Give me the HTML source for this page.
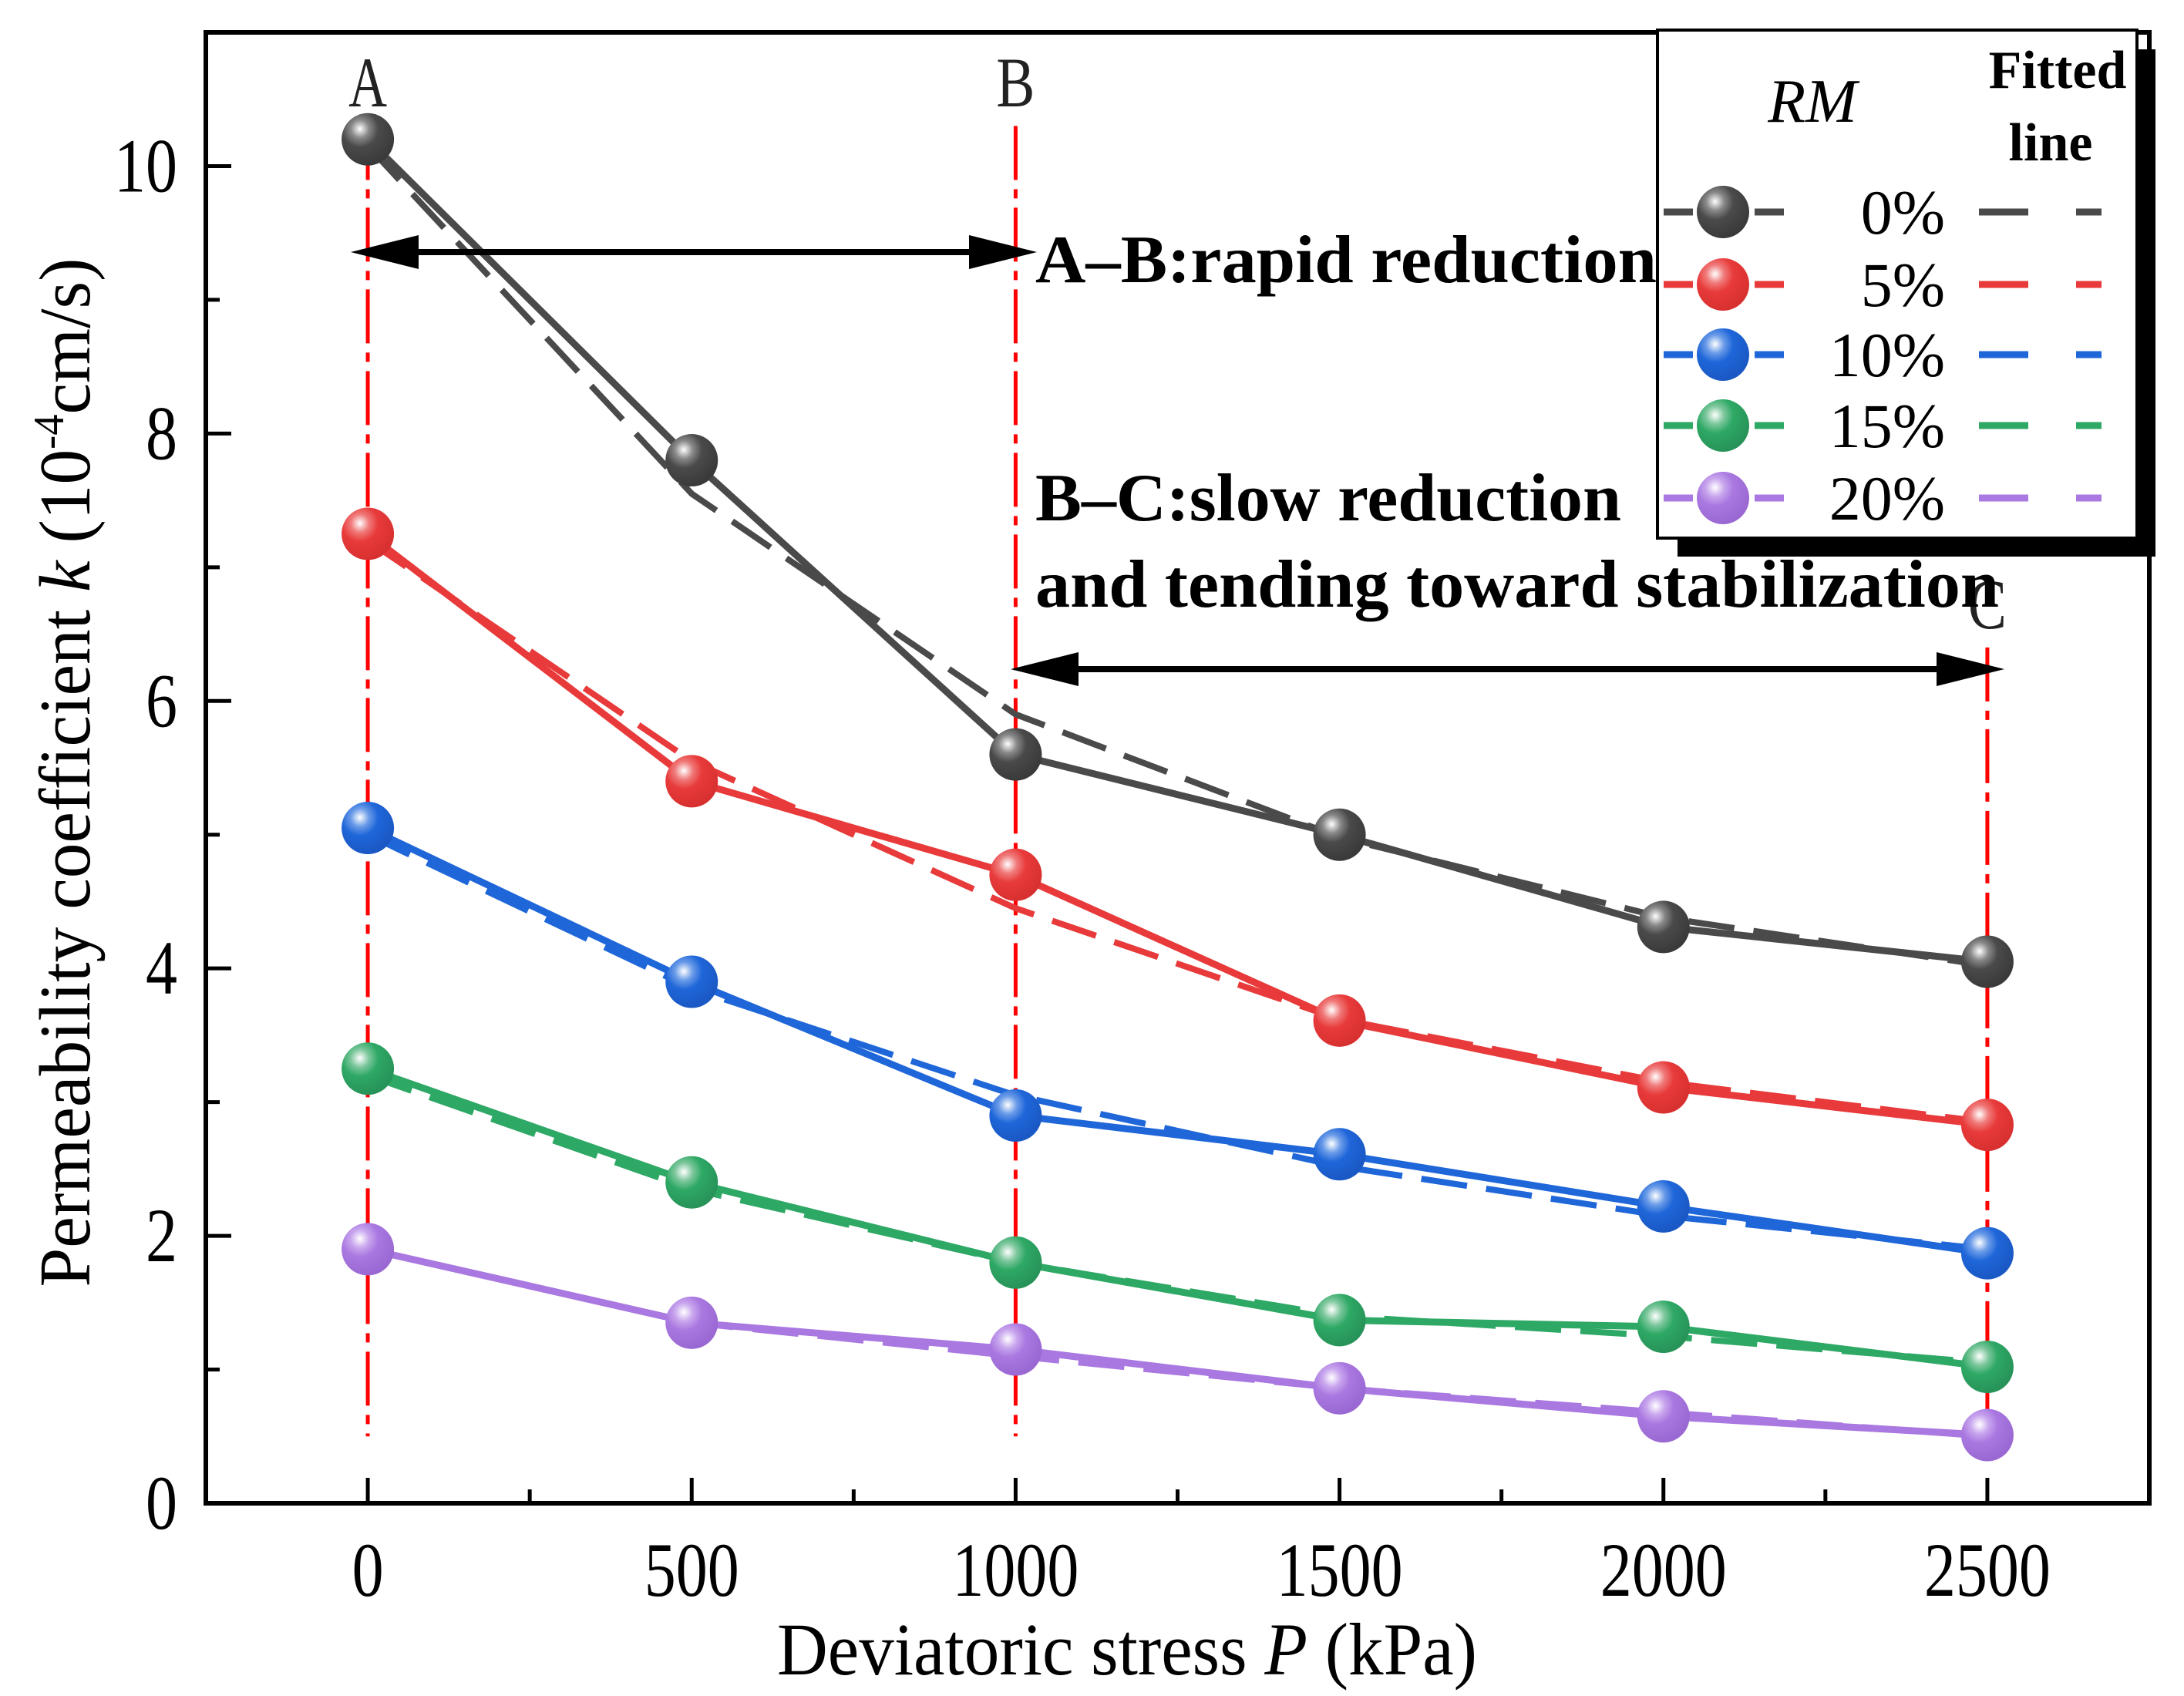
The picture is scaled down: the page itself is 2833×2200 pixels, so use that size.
<!DOCTYPE html>
<html><head><meta charset="utf-8"><style>
html,body{margin:0;padding:0;background:#fff;}
svg{display:block;}
text{font-family:"Liberation Serif",serif;}
</style></head><body>
<svg id="chart" width="2833" height="2200" viewBox="0 0 2833 2200" xmlns="http://www.w3.org/2000/svg">
<defs>
<radialGradient id="gk" cx="0.35" cy="0.3" r="0.7"><stop offset="0" stop-color="#fff"/><stop offset="0.25" stop-color="#888"/><stop offset="0.5" stop-color="#4a4a4a"/><stop offset="1" stop-color="#3a3a3a"/></radialGradient>
<radialGradient id="gr" cx="0.35" cy="0.3" r="0.7"><stop offset="0" stop-color="#fff"/><stop offset="0.25" stop-color="#f07a7a"/><stop offset="0.5" stop-color="#e83a3a"/><stop offset="1" stop-color="#d83030"/></radialGradient>
<radialGradient id="gb" cx="0.35" cy="0.3" r="0.7"><stop offset="0" stop-color="#fff"/><stop offset="0.25" stop-color="#6a9be8"/><stop offset="0.5" stop-color="#1f66d9"/><stop offset="1" stop-color="#1a58c4"/></radialGradient>
<radialGradient id="gg" cx="0.35" cy="0.3" r="0.7"><stop offset="0" stop-color="#fff"/><stop offset="0.25" stop-color="#7cc79c"/><stop offset="0.5" stop-color="#2ea865"/><stop offset="1" stop-color="#279358"/></radialGradient>
<radialGradient id="gp" cx="0.35" cy="0.3" r="0.7"><stop offset="0" stop-color="#fff"/><stop offset="0.25" stop-color="#c9a6ee"/><stop offset="0.5" stop-color="#a978e0"/><stop offset="1" stop-color="#9a68d2"/></radialGradient>
</defs>
<g id="plot"></g>
</svg>
<script>
const xValues=[0,500,1000,1500,2000,2500];
const seriesNames=["0%","5%","10%","15%","20%"];
const k0=[10.2,7.8,5.6,5.0,4.31,4.05];
const k5=[7.25,5.4,4.7,3.61,3.11,2.83];
const k10=[5.05,3.9,2.9,2.61,2.22,1.87];
const k15=[3.25,2.4,1.8,1.37,1.32,1.02];
const k20=[1.9,1.35,1.15,0.86,0.65,0.51];
const fit0=[10.15,7.55,5.9,4.98,4.38,4.02];
const fit5=[7.2,5.55,4.45,3.62,3.15,2.85];
const fit10=[5.0,3.85,3.05,2.52,2.15,1.9];
const fit15=[3.2,2.35,1.8,1.4,1.25,1.05];
const fit20=[1.9,1.35,1.1,0.86,0.68,0.5];
const xTicks=[0,500,1000,1500,2000,2500];
const yTicks=[0,2,4,6,8,10];
const xMinor=[250,750,1250,1750,2250];
const yMinor=[1,3,5,7,9];
const stageX=[0,1000,2500];
const colors=["#4a4a4a","#e83a3a","#1f66d9","#2ea865","#a978e0"];
const grads=["gk","gr","gb","gg","gp"];
const data=[k0,k5,k10,k15,k20];
const fits=[fit0,fit5,fit10,fit15,fit20];

const L=267,R=2788,T=42,B=1950;
const xMin=-250,xMax=2750,yMin=0,yMax=11;
const sx=v=>L+(v-xMin)/(xMax-xMin)*(R-L);
const sy=v=>B-(v-yMin)/(yMax-yMin)*(B-T);
const NS="http://www.w3.org/2000/svg";
const g=document.getElementById('plot');
function mk(tag,attrs,parent){const e=document.createElementNS(NS,tag);for(const k in attrs)e.setAttribute(k,attrs[k]);(parent||g).appendChild(e);return e;}

let fr=mk('rect',{x:L,y:T,width:R-L,height:B-T,fill:'none',stroke:'#000','stroke-width':6});



xTicks.forEach(v=>{
  let t=mk('line',{x1:sx(v),x2:sx(v),y1:B,y2:B-33,stroke:'#000','stroke-width':5});
  
  
  let s=String(v);
  let l=mk('text',{x:sx(v),y:2070,'font-size':100,'text-anchor':'middle',textLength:s.length*41,lengthAdjust:'spacingAndGlyphs'});
  l.textContent=s;
  
  
});
xMinor.forEach(v=>{
  let t=mk('line',{x1:sx(v),x2:sx(v),y1:B,y2:B-18,stroke:'#000','stroke-width':5});
  
  
});
yTicks.forEach(v=>{
  let t=mk('line',{x1:L,x2:L+33,y1:sy(v),y2:sy(v),stroke:'#000','stroke-width':5});
  
  
  let s=String(v);
  let l=mk('text',{x:230,y:sy(v)+33,'font-size':100,'text-anchor':'end',textLength:s.length*41,lengthAdjust:'spacingAndGlyphs'});
  l.textContent=s;
  
  
});
yMinor.forEach(v=>{
  let t=mk('line',{x1:L,x2:L+18,y1:sy(v),y2:sy(v),stroke:'#000','stroke-width':5});
  
  
});

const stageTop=[10.3,10.3,6.4];
stageX.forEach((v,i)=>{
  let l=mk('line',{x1:sx(v),x2:sx(v),y1:sy(stageTop[i]),y2:sy(0.5),stroke:'#ff0000','stroke-width':5,'stroke-dasharray':'70 12 12 12'});
  
  
});
[['A',0,138],['B',1000,138]].forEach(a=>{
  let t=mk('text',{x:sx(a[1]),y:a[2],'font-size':92,'text-anchor':'middle','fill':'#222',textLength:50,lengthAdjust:'spacingAndGlyphs'});
  t.textContent=a[0];
  
  
});
let tc=mk('text',{x:sx(2500),y:815,'font-size':92,'text-anchor':'middle','fill':'#222',textLength:50,lengthAdjust:'spacingAndGlyphs'});
tc.textContent='C';



data.forEach((arr,si)=>{
  let fp=fits[si].map((v,i)=>sx(xValues[i])+','+sy(v)).join(' ');
  let f=mk('polyline',{points:fp,fill:'none',stroke:colors[si],'stroke-width':8,'stroke-dasharray':'60 25'});
  
  
  let p=arr.map((v,i)=>sx(xValues[i])+','+sy(v)).join(' ');
  let l=mk('polyline',{points:p,fill:'none',stroke:colors[si],'stroke-width':9});
  
  
});
data.forEach((arr,si)=>{
  arr.forEach((v,i)=>{
    let c=mk('circle',{cx:sx(xValues[i]),cy:sy(v),r:34,fill:'url(#'+grads[si]+')'});
    
    
  });
});

function arrow(x1,x2,y,name){
  let ag=mk('g',{});
  
  
  mk('line',{x1:x1+60,x2:x2-60,y1:y,y2:y,stroke:'#000','stroke-width':8},ag);
  mk('polygon',{points:`${x1},${y} ${x1+88},${y-22} ${x1+88},${y+22}`,fill:'#000'},ag);
  mk('polygon',{points:`${x2},${y} ${x2-88},${y-22} ${x2-88},${y+22}`,fill:'#000'},ag);
}
arrow(455,1345,327,'arrow-a-b');
arrow(1311,2600,868,'arrow-b-c');

function txt(s,x,y,len,name){
  let t=mk('text',{x:x,y:y,'font-size':88,'font-weight':'bold',textLength:len,lengthAdjust:'spacingAndGlyphs'});
  t.textContent=s;
  
  
  return t;
}
txt('A\u2013B:rapid reduction',1343,366,806,'annotation-rapid');
txt('B\u2013C:slow reduction',1343,675,760,'annotation-slow');
txt('and tending toward stabilization',1343,787,1250,'annotation-stabilization');

let xt=mk('text',{x:1462,y:2172,'font-size':96,'text-anchor':'middle',textLength:908,lengthAdjust:'spacingAndGlyphs'});
xt.innerHTML='Deviatoric stress <tspan font-style="italic">P</tspan> (kPa)';


let yt=mk('text',{x:0,y:0,'font-size':94,'text-anchor':'middle',transform:'translate(116,1002) rotate(-90)',textLength:1335,lengthAdjust:'spacingAndGlyphs'});
yt.innerHTML='Permeability coefficient <tspan font-style="italic">k</tspan> (10<tspan dy="-34" font-size="56">-4</tspan><tspan dy="34">cm/s)</tspan>';



const lg=mk('g',{});


mk('rect',{x:2176,y:64,width:620,height:658,fill:'#000'},lg);
mk('rect',{x:2150,y:39,width:622,height:659,fill:'#fff',stroke:'#000','stroke-width':4},lg);
let rm=mk('text',{x:2351,y:158,'font-size':80,'font-style':'italic','text-anchor':'middle'},lg);
rm.textContent='RM';


let ft=mk('text',{x:2669,y:114,'font-size':70,'font-weight':'bold','text-anchor':'middle'},lg);
ft.textContent='Fitted';


let ft2=mk('text',{x:2660,y:208,'font-size':70,'font-weight':'bold','text-anchor':'middle'},lg);
ft2.textContent='line';


const rowY=[275,369,460,552,646];
seriesNames.forEach((n,i)=>{
  let e=mk('g',{},lg);
  
  
  mk('line',{x1:2158,x2:2314,y1:rowY[i],y2:rowY[i],stroke:colors[i],'stroke-width':9,'stroke-dasharray':'38 80 40'},e);
  mk('circle',{cx:2235,cy:rowY[i],r:34,fill:'url(#'+grads[i]+')'},e);
  let t=mk('text',{x:2523,y:rowY[i]+28,'font-size':82,'text-anchor':'end'},e);
  t.textContent=n;
  mk('line',{x1:2567,x2:2631,y1:rowY[i],y2:rowY[i],stroke:colors[i],'stroke-width':9},e);
  mk('line',{x1:2693,x2:2726,y1:rowY[i],y2:rowY[i],stroke:colors[i],'stroke-width':9},e);
});
</script>
</body></html>
